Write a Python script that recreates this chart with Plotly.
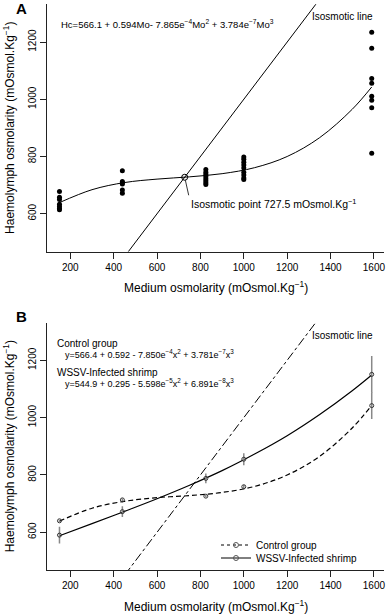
import plotly.graph_objects as go

# ---------------- data ----------------
# Panel A: individual measurements
A_x = [150]*7 + [440]*6 + [825]*8 + [1000]*9 + [1590]*8
A_y = [678, 658, 650, 633, 625, 618, 614,
       750, 713, 708, 704, 683, 672,
       755, 745, 738, 730, 722, 715, 708, 702,
       798, 790, 780, 770, 760, 745, 735, 725, 720,
       1234, 1178, 1073, 1056, 1011, 997, 970, 811]
# fitted curve
curve_x = [150, 300, 450, 600, 750, 900, 1050, 1200, 1350, 1500, 1590]
A_fit = [639, 684, 709, 721, 729, 740, 761, 800, 866, 965, 1043]
iso_pt = 727.5
iso_x = [0, 2000]
iso_y = [0, 2000]

# Panel B: means and error bars
B_x = [150, 440, 825, 1000, 1590]
ctrl_mean = [640, 713, 726, 759, 1042]
ctrl_err = [4, 5, 4, 6, 47]
wssv_mean = [590, 672, 788, 855, 1151]
wssv_err = [29, 19, 17, 21, 64]
ctrl_fit = [639, 684, 708, 721, 728, 739, 760, 800, 865, 964, 1043]
wssv_fit = [588, 630, 673, 717, 764, 815, 873, 937, 1011, 1094, 1149]

x_ticks = [200, 400, 600, 800, 1000, 1200, 1400, 1600]
y_ticks = [600, 800, 1000, 1200]

FONT = "Liberation Sans, Arial, Helvetica, sans-serif"
W, H = 387, 616

fig = go.Figure()

# ---- Panel A ----
fig.add_trace(go.Scatter(x=iso_x, y=iso_y, mode="lines",
                         line=dict(color="black", width=1), showlegend=False,
                         xaxis="x", yaxis="y"))
fig.add_trace(go.Scatter(x=curve_x, y=A_fit, mode="lines", line_shape="spline",
                         line=dict(color="black", width=1), showlegend=False,
                         xaxis="x", yaxis="y"))
fig.add_trace(go.Scatter(x=A_x, y=A_y, mode="markers",
                         marker=dict(color="black", size=5), showlegend=False,
                         xaxis="x", yaxis="y"))
fig.add_trace(go.Scatter(x=[iso_pt], y=[iso_pt], mode="markers",
                         marker=dict(symbol="circle-open", color="black", size=6,
                                     line=dict(width=1)),
                         showlegend=False, xaxis="x", yaxis="y"))

# ---- Panel B ----
fig.add_trace(go.Scatter(x=iso_x, y=iso_y, mode="lines",
                         line=dict(color="black", width=1, dash="dashdot"),
                         showlegend=False, xaxis="x2", yaxis="y2"))
fig.add_trace(go.Scatter(x=curve_x, y=ctrl_fit, mode="lines", line_shape="spline",
                         line=dict(color="black", width=1.2, dash="5px,3px"),
                         showlegend=False, xaxis="x2", yaxis="y2"))
fig.add_trace(go.Scatter(x=curve_x, y=wssv_fit, mode="lines", line_shape="spline",
                         line=dict(color="black", width=1.2),
                         showlegend=False, xaxis="x2", yaxis="y2"))
fig.add_trace(go.Scatter(x=B_x, y=ctrl_mean, mode="markers",
                         marker=dict(symbol="circle-open", color="#333", size=4,
                                     line=dict(width=1)),
                         error_y=dict(type="data", array=ctrl_err, color="#888",
                                      thickness=1.5, width=0),
                         showlegend=False, xaxis="x2", yaxis="y2"))
fig.add_trace(go.Scatter(x=B_x, y=wssv_mean, mode="markers",
                         marker=dict(symbol="circle-open", color="#333", size=4,
                                     line=dict(width=1)),
                         error_y=dict(type="data", array=wssv_err, color="#888",
                                      thickness=1.5, width=0),
                         showlegend=False, xaxis="x2", yaxis="y2"))
# legend entries (one legend each, for tight row spacing)
fig.add_trace(go.Scatter(x=[None], y=[None], mode="lines+markers", name="Control group",
                         line=dict(color="black", width=1, dash="3px,3px"),
                         marker=dict(symbol="circle-open", color="#555", size=5),
                         legend="legend", xaxis="x2", yaxis="y2"))
fig.add_trace(go.Scatter(x=[None], y=[None], mode="lines+markers", name="WSSV-Infected shrimp",
                         line=dict(color="black", width=1),
                         marker=dict(symbol="circle-open", color="#555", size=5),
                         legend="legend2", xaxis="x2", yaxis="y2"))

# ---- geometry ----
xdom = [46.9 / W, 384.3 / W]
yA = [(H - 251.5) / H, (H - 4.3) / H]
yB = [(H - 570.1) / H, (H - 322.5) / H]

def xax(domain, anchor):
    return dict(domain=domain, anchor=anchor, range=[92, 1648], tickvals=x_ticks,
                ticks="outside", ticklen=6, tickwidth=1, tickcolor="#222",
                showline=True, linecolor="#222", linewidth=1, showgrid=False,
                zeroline=False, tickfont=dict(family=FONT, size=10, color="black"))

def yax(domain, anchor):
    return dict(domain=domain, anchor=anchor, range=[468, 1332], tickvals=y_ticks,
                ticks="outside", ticklen=6, tickwidth=1, tickcolor="#222",
                showline=True, linecolor="#222", linewidth=1, showgrid=False,
                zeroline=False, tickangle=-90,
                tickfont=dict(family=FONT, size=10, color="black"))

ann = []
def txt(text, x, y, size, xanchor="center", xref="paper", yref="paper", bold=False, textangle=0):
    ann.append(dict(text=("<b>%s</b>" % text) if bold else text, x=x, y=y, xref=xref, yref=yref,
                    xanchor=xanchor, yanchor="middle", showarrow=False, textangle=textangle,
                    font=dict(family=FONT, size=size, color="black")))

def px_x(p):
    return p / W

def px_y(p):
    return 1 - p / H

KG = "mOsmol.Kg<sup>−1</sup>"
# panel labels
txt("A", px_x(21), px_y(8), 15, bold=True)
txt("B", px_x(21), px_y(316), 15, bold=True)
# axis titles
for ytitle_c, xtitle_y in [(127.9, 287), (446.3, 606)]:
    txt("Haemolymph osmolarity (%s)" % KG, px_x(9), px_y(ytitle_c), 12, textangle=-90)
    txt("Medium osmolarity (%s)" % KG, px_x(215.6), px_y(xtitle_y), 12)

# panel A texts
txt("Hc=566.1 + 0.594Mo- 7.865e<sup>−4</sup>Mo<sup>2</sup> + 3.784e<sup>−7</sup>Mo<sup>3</sup>",
    148, 1263, 9.5, xanchor="left", xref="x", yref="y")
txt("Isosmotic line", 1455, 1291, 10, xref="x", yref="y")
ann.append(dict(text="Isosmotic point 727.5 " + KG, x=iso_pt, y=iso_pt, xref="x", yref="y",
                ax=4, ay=18, axref="pixel", ayref="pixel", xanchor="left", yanchor="top",
                showarrow=True, arrowhead=0, arrowwidth=0.8, arrowcolor="black", standoff=3,
                font=dict(family=FONT, size=10.5, color="black")))

# panel B texts
txt("Isosmotic line", 1455, 1288, 10, xref="x2", yref="y2")
txt("Control group", 130, 1257, 10, xanchor="left", xref="x2", yref="y2")
txt("y=566.4 + 0.592 - 7.850e<sup>−4</sup>x<sup>2</sup> + 3.781e<sup>−7</sup>x<sup>3</sup>",
    168, 1222, 9, xanchor="left", xref="x2", yref="y2")
txt("WSSV-Infected shrimp", 130, 1157, 10, xanchor="left", xref="x2", yref="y2")
txt("y=544.9 + 0.295 - 5.598e<sup>−5</sup>x<sup>2</sup> + 6.891e<sup>−8</sup>x<sup>3</sup>",
    168, 1122, 9, xanchor="left", xref="x2", yref="y2")

leg_common = dict(xanchor="left", yanchor="middle", bgcolor="rgba(0,0,0,0)",
                  font=dict(family=FONT, size=10, color="black"),
                  itemwidth=30, borderwidth=0)

fig.update_layout(
    width=W, height=H, margin=dict(l=0, r=0, t=0, b=0),
    paper_bgcolor="white", plot_bgcolor="white",
    xaxis=xax(xdom, "y"), yaxis=yax(yA, "x"),
    xaxis2=xax(xdom, "y2"), yaxis2=yax(yB, "x2"),
    annotations=ann,
    legend=dict(x=px_x(216), y=px_y(545), **leg_common),
    legend2=dict(x=px_x(216), y=px_y(558), **leg_common),
    font=dict(family=FONT, color="black"),
)

fig.write_html("out.html",
               config={"displayModeBar": False},
               post_script="document.body.style.margin='0';document.body.style.padding='0';"
                           "document.documentElement.style.overflow='hidden';")
